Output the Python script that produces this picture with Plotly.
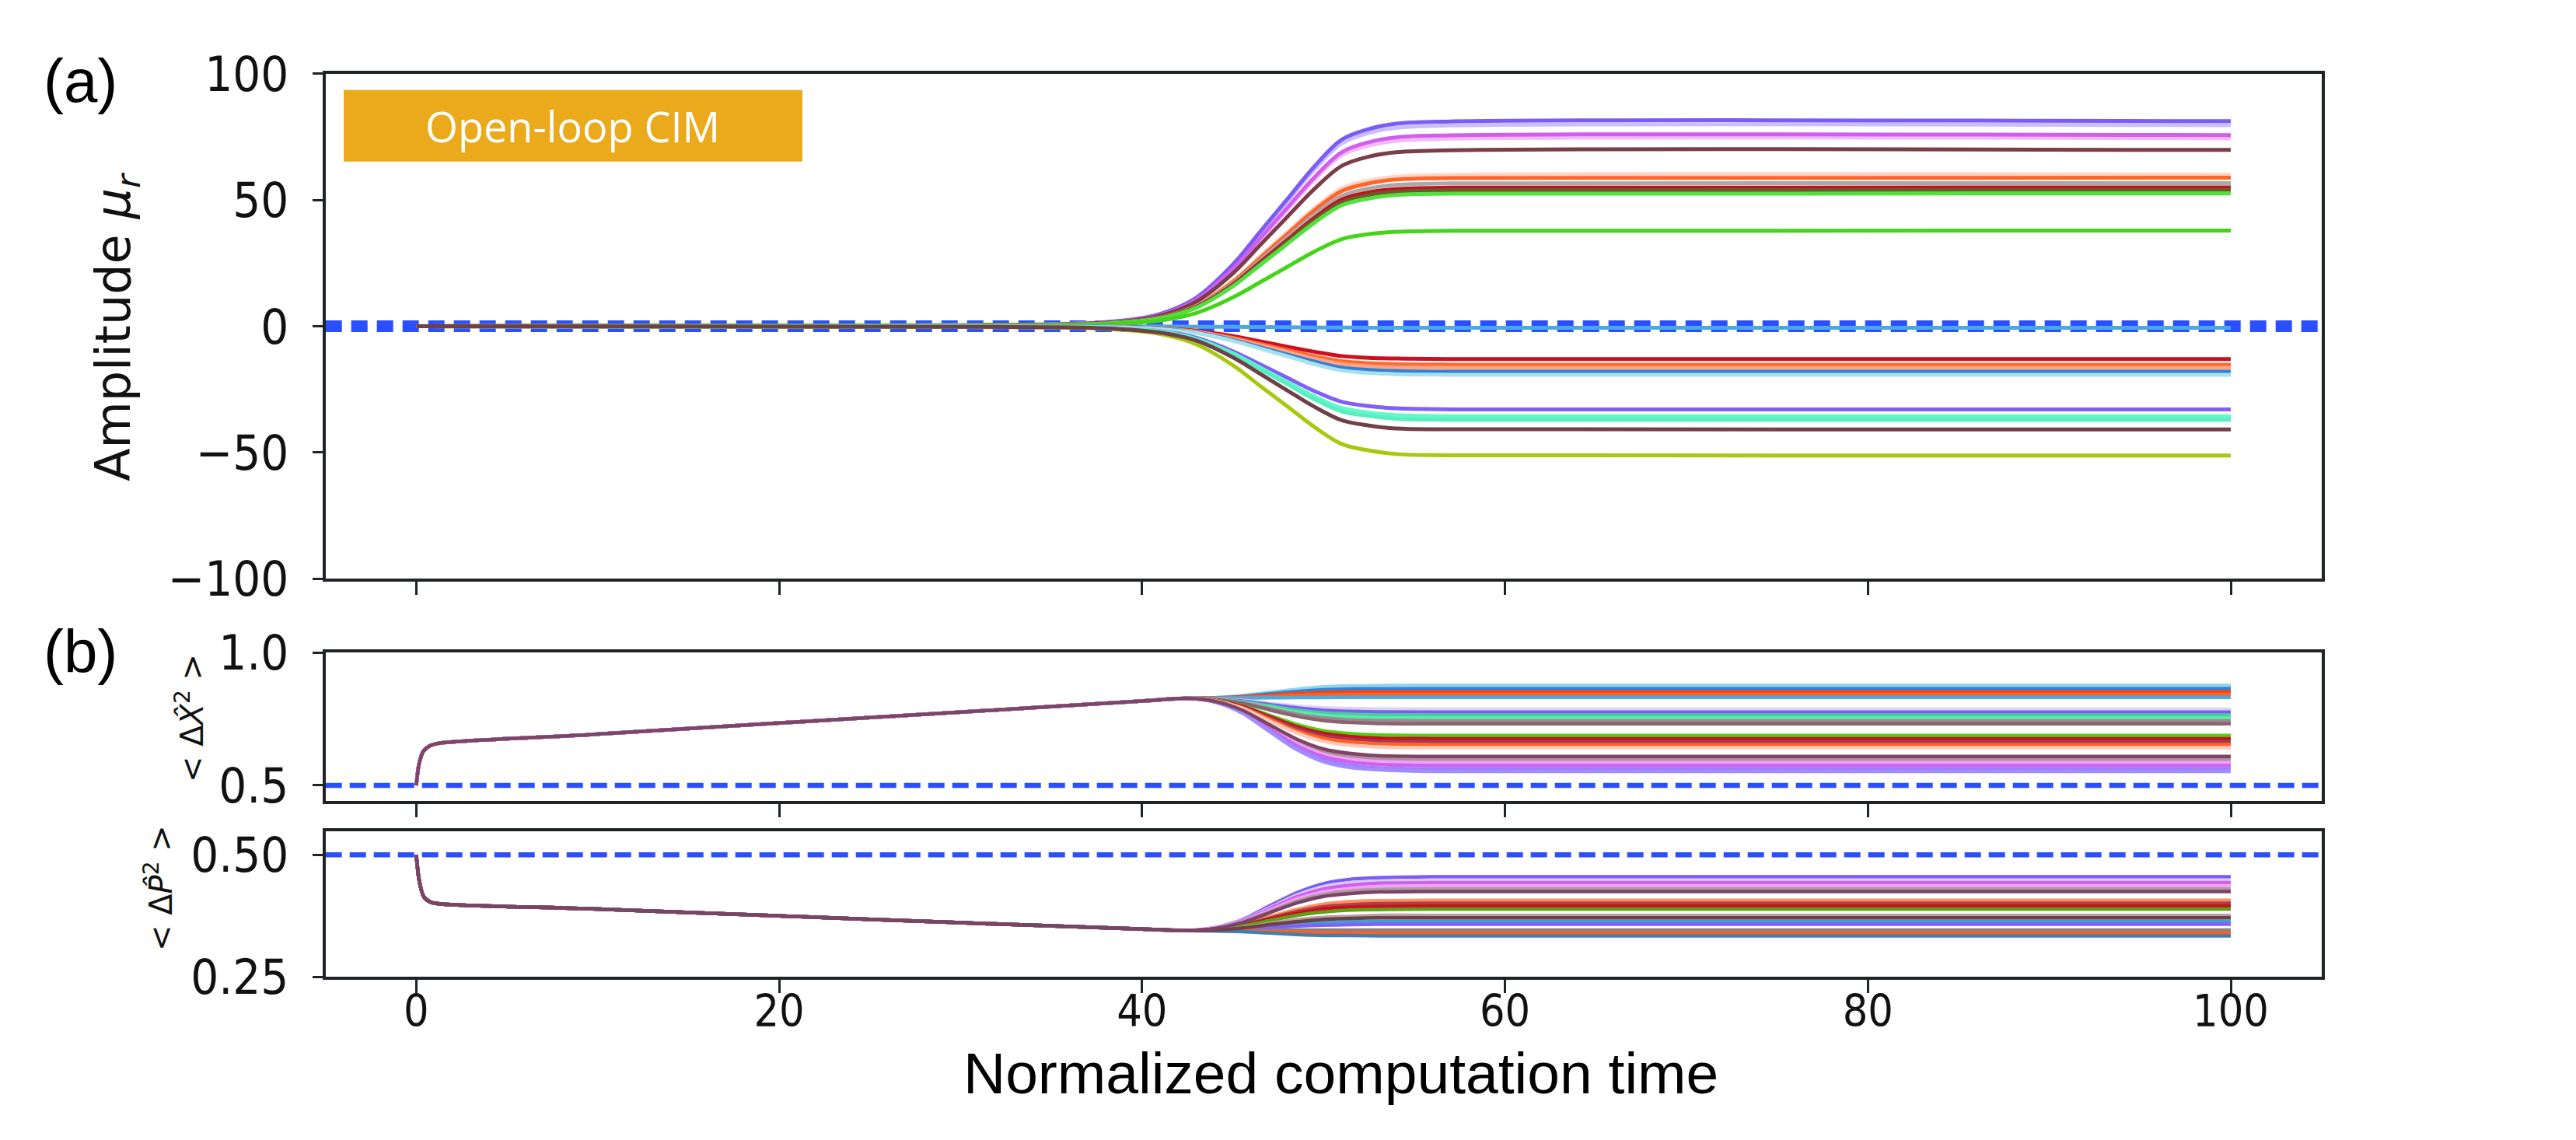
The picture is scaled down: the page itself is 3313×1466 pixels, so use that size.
import plotly.graph_objects as go

W, H = 3313, 1466
DARK = '#1f2326'

# ---------------- shared x axis ----------------
X_RANGE = [-5, 105]
X_TICKS = [0, 20, 40, 60, 80, 100]
X_TICK_TEXT = ['0', '20', '40', '60', '80', '100']

# ---------------- panel (a): amplitude mu_r ----------------
A_YTICKS = [-100, -50, 0, 50, 100]
A_YTICK_TEXT = ['\u2212100', '\u221250', '0', '50', '100']
T_A = [0, 30, 38, 41, 43, 45, 46.5, 48, 49.5, 51, 52.5, 54, 57, 100]

A_PALE_LAV = [0, 0.4, 1.6, 4.8, 11.1, 23.9, 36.6, 49.4, 62.1, 72.4, 76.6, 78.6, 79.5, 79.6]
A_PALE_PINK = [0, 0.4, 1.5, 4.5, 10.4, 22.3, 34.2, 46.1, 58.0, 67.7, 71.6, 73.4, 74.3, 74.4]
A_PALE_PEACH = [0, 0.3, 1.2, 3.6, 8.4, 18.0, 27.6, 37.2, 46.8, 54.6, 57.7, 59.2, 59.9, 60.0]
A_PURPLE_81 = [0, 0.4, 1.6, 4.9, 11.4, 24.4, 37.4, 50.3, 63.3, 73.9, 78.1, 80.2, 81.1, 81.2]
A_MAGENTA_76 = [0, 0.4, 1.5, 4.5, 10.6, 22.7, 34.8, 46.9, 59.0, 68.9, 72.9, 74.8, 75.6, 75.7]
A_BROWN_70 = [0, 0.3, 1.4, 4.2, 9.8, 20.9, 32.1, 43.3, 54.4, 63.5, 67.2, 68.9, 69.7, 69.8]
A_ORANGE_59 = [0, 0.3, 1.2, 3.5, 8.2, 17.6, 27.0, 36.5, 45.9, 53.5, 56.6, 58.1, 58.7, 58.8]
A_GRAY_57 = [0, 0.3, 1.1, 3.4, 7.9, 17.0, 26.1, 35.2, 44.2, 51.6, 54.6, 56.0, 56.6, 56.7]
A_RED_55 = [0, 0.3, 1.1, 3.3, 7.7, 16.5, 25.3, 34.1, 42.9, 50.1, 53.0, 54.3, 54.9, 55.0]
A_OLIVE_54 = [0, 0.3, 1.1, 3.2, 7.6, 16.2, 24.8, 33.5, 42.1, 49.1, 52.0, 53.3, 53.9, 54.0]
A_GREEN_53 = [0, 0.3, 1.1, 3.2, 7.4, 15.8, 24.2, 32.6, 41.0, 47.9, 50.6, 52.0, 52.5, 52.6]
A_GREEN_38 = [0, 0.2, 0.8, 2.3, 5.3, 11.4, 17.4, 23.5, 29.6, 34.5, 36.5, 37.4, 37.8, 37.9]
A_BLUE_0 = [0, 0, -0.1, -0.1, -0.2, -0.2, -0.3, -0.4, -0.5, -0.5, -0.6, -0.6, -0.6, -0.6]
A_RED_M13 = [0, -0.1, -0.3, -0.8, -1.8, -3.9, -6.0, -8.1, -10.1, -11.8, -12.5, -12.8, -13.0, -13.0]
A_ORANGE_M15 = [0, -0.1, -0.3, -0.9, -2.1, -4.6, -7.0, -9.4, -11.9, -13.8, -14.6, -15.0, -15.2, -15.2]
A_SALMON_M16 = [0, -0.1, -0.3, -1.0, -2.3, -5.0, -7.6, -10.2, -12.9, -15.0, -15.9, -16.3, -16.5, -16.5]
A_BLUE_M18 = [0, -0.1, -0.4, -1.1, -2.5, -5.4, -8.3, -11.2, -14.0, -16.4, -17.3, -17.8, -18.0, -18.0]
A_CYAN_M19 = [0, -0.1, -0.4, -1.2, -2.7, -5.8, -8.8, -11.9, -15.0, -17.5, -18.5, -19.0, -19.2, -19.2]
A_PURPLE_M33 = [0, -0.2, -0.7, -2.0, -4.6, -9.9, -15.1, -20.4, -25.7, -29.9, -31.6, -32.5, -32.9, -32.9]
A_AQUA_M36 = [0, -0.2, -0.7, -2.1, -5.0, -10.7, -16.4, -22.1, -27.8, -32.4, -34.2, -35.2, -35.6, -35.6]
A_AQUA_M37 = [0, -0.2, -0.7, -2.2, -5.2, -11.1, -17.0, -22.9, -28.9, -33.7, -35.5, -36.6, -37.0, -37.0]
A_LIME_M51 = [0, -0.3, -1.0, -3.1, -7.2, -15.4, -23.6, -31.7, -39.9, -46.6, -49.2, -50.6, -51.1, -51.2]
A_BROWN_M41 = [0, -0.2, -0.8, -2.5, -5.7, -12.3, -18.8, -25.4, -31.9, -37.2, -39.3, -40.5, -40.8, -40.9]

A_SERIES = [A_PALE_LAV, A_PALE_PINK, A_PALE_PEACH, A_PURPLE_81, A_MAGENTA_76, A_BROWN_70,
            A_ORANGE_59, A_GRAY_57, A_RED_55, A_OLIVE_54, A_GREEN_53, A_GREEN_38, A_BLUE_0,
            A_RED_M13, A_ORANGE_M15, A_SALMON_M16, A_BLUE_M18, A_CYAN_M19, A_PURPLE_M33,
            A_AQUA_M36, A_AQUA_M37, A_LIME_M51, A_BROWN_M41]
A_COLORS = ['#CBBDFF', '#F4BAF8', '#FFD4C4', '#7B5CF5', '#D25EF0', '#7A3E48',
            '#FF6428', '#A9A9A9', '#C80E1E', '#6B5A2A', '#52E03E', '#44D418', '#4CA8E0',
            '#CC1020', '#FF6A30', '#FFA585', '#2F80D8', '#A8E0EC', '#8060F8',
            '#62F8CA', '#58EEC0', '#A8C810', '#704048']
A_ZERO_X = [-5, 105]
A_ZERO_Y = [0, 0]

# ---------------- panel (b) top: <dX^2> ----------------
B1_YTICKS = [0.5, 1.0]
B1_YTICK_TEXT = ['0.5', '1.0']
T_B = [0, 0.15, 0.4, 0.8, 1.5, 10, 20, 30, 40, 42.5, 44, 45.5, 47, 48.5, 50, 51.5, 53, 56, 100]
B1_HEAD = [0.5, 0.58, 0.63, 0.651, 0.661, 0.693, 0.735, 0.776, 0.818]

B1_877 = [0.828, 0.830, 0.838, 0.850, 0.862, 0.871, 0.875, 0.876, 0.877, 0.877]
B1_865 = [0.828, 0.830, 0.835, 0.845, 0.854, 0.860, 0.863, 0.864, 0.865, 0.865]
B1_854 = [0.828, 0.829, 0.833, 0.840, 0.846, 0.851, 0.853, 0.854, 0.854, 0.854]
B1_843 = [0.828, 0.829, 0.831, 0.835, 0.839, 0.841, 0.842, 0.843, 0.843, 0.843]
B1_832 = [0.828, 0.828, 0.829, 0.830, 0.831, 0.831, 0.832, 0.832, 0.832, 0.832]
B1_787 = [0.828, 0.826, 0.820, 0.810, 0.799, 0.792, 0.789, 0.788, 0.787, 0.787]
B1_776 = [0.828, 0.825, 0.818, 0.805, 0.792, 0.783, 0.779, 0.777, 0.776, 0.776]
B1_765 = [0.828, 0.825, 0.815, 0.800, 0.784, 0.773, 0.768, 0.766, 0.765, 0.765]
B1_754 = [0.828, 0.824, 0.813, 0.795, 0.776, 0.764, 0.758, 0.755, 0.754, 0.754]
B1_743 = [0.828, 0.824, 0.811, 0.790, 0.769, 0.754, 0.747, 0.744, 0.743, 0.743]
B1_732 = [0.828, 0.823, 0.809, 0.785, 0.761, 0.744, 0.737, 0.733, 0.732, 0.732]
B1_688 = [0.828, 0.821, 0.800, 0.765, 0.730, 0.706, 0.695, 0.690, 0.688, 0.688]
B1_676 = [0.828, 0.820, 0.798, 0.760, 0.722, 0.696, 0.684, 0.678, 0.676, 0.676]
B1_665 = [0.828, 0.820, 0.795, 0.755, 0.714, 0.686, 0.673, 0.667, 0.665, 0.665]
B1_654 = [0.828, 0.819, 0.793, 0.750, 0.706, 0.677, 0.663, 0.657, 0.654, 0.654]
B1_642 = [0.828, 0.819, 0.791, 0.744, 0.698, 0.666, 0.651, 0.645, 0.642, 0.642]
B1_597 = [0.828, 0.816, 0.782, 0.724, 0.666, 0.627, 0.609, 0.600, 0.597, 0.597]
B1_586 = [0.828, 0.816, 0.780, 0.719, 0.659, 0.617, 0.598, 0.590, 0.586, 0.586]
B1_575 = [0.828, 0.815, 0.777, 0.714, 0.651, 0.608, 0.588, 0.579, 0.575, 0.575]
B1_562 = [0.828, 0.815, 0.775, 0.708, 0.642, 0.597, 0.575, 0.566, 0.562, 0.562]
B1_553 = [0.828, 0.814, 0.773, 0.704, 0.636, 0.589, 0.567, 0.559, 0.553, 0.553]
B1_609 = [0.828, 0.817, 0.784, 0.729, 0.675, 0.637, 0.620, 0.612, 0.609, 0.609]

B1_TAILS = [B1_877, B1_865, B1_854, B1_843, B1_832, B1_787, B1_776, B1_765, B1_754, B1_743,
            B1_732, B1_688, B1_676, B1_665, B1_654, B1_642, B1_597, B1_586, B1_575, B1_562,
            B1_553, B1_609]
B1_COLORS = ['#92D5E6', '#2F82D8', '#E64A22', '#FF6222', '#52A8D8', '#DCD2FA', '#7B5CF5',
             '#50C8A0', '#50F0A8', '#A08890', '#8A6470', '#52D010', '#C81020', '#A83858',
             '#FF6420', '#FFC8B8', '#B090A0', '#F0A0F8', '#D060F0', '#9A80FF',
             '#A48CFF', '#7E4664']
B1_REF_Y = [0.5, 0.5]

# ---------------- panel (b) bottom: <dP^2> ----------------
B2_YTICKS = [0.25, 0.5]
B2_YTICK_TEXT = ['0.25', '0.50']
B2_HEAD = [0.5, 0.45, 0.415, 0.403, 0.399, 0.389, 0.375, 0.361, 0.348]

B2_455 = [0.345, 0.351, 0.367, 0.395, 0.422, 0.441, 0.450, 0.453, 0.455, 0.455]
B2_448 = [0.345, 0.350, 0.366, 0.391, 0.417, 0.435, 0.443, 0.446, 0.448, 0.448]
B2_443 = [0.345, 0.350, 0.365, 0.389, 0.414, 0.430, 0.438, 0.442, 0.443, 0.443]
B2_436 = [0.345, 0.350, 0.363, 0.386, 0.409, 0.424, 0.431, 0.435, 0.436, 0.436]
B2_430 = [0.345, 0.349, 0.362, 0.383, 0.405, 0.419, 0.426, 0.429, 0.430, 0.430]
B2_407 = [0.345, 0.348, 0.357, 0.373, 0.388, 0.399, 0.404, 0.406, 0.407, 0.407]
B2_401 = [0.345, 0.348, 0.356, 0.370, 0.384, 0.394, 0.398, 0.400, 0.401, 0.401]
B2_395 = [0.345, 0.348, 0.355, 0.368, 0.380, 0.389, 0.393, 0.394, 0.395, 0.395]
B2_389 = [0.345, 0.347, 0.354, 0.365, 0.376, 0.383, 0.387, 0.388, 0.389, 0.389]
B2_376 = [0.345, 0.347, 0.351, 0.359, 0.367, 0.372, 0.374, 0.376, 0.376, 0.376]
B2_364 = [0.345, 0.346, 0.349, 0.354, 0.358, 0.362, 0.363, 0.364, 0.364, 0.364]
B2_358 = [0.345, 0.346, 0.348, 0.351, 0.354, 0.356, 0.357, 0.358, 0.358, 0.358]
B2_346 = [0.345, 0.345, 0.345, 0.345, 0.346, 0.346, 0.346, 0.346, 0.346, 0.346]
B2_340 = [0.345, 0.345, 0.344, 0.343, 0.342, 0.341, 0.340, 0.340, 0.340, 0.340]
B2_334 = [0.345, 0.344, 0.343, 0.340, 0.337, 0.335, 0.335, 0.334, 0.334, 0.334]
B2_371 = [0.345, 0.346, 0.350, 0.357, 0.363, 0.368, 0.370, 0.371, 0.371, 0.371]
B2_425 = [0.345, 0.349, 0.361, 0.381, 0.401, 0.415, 0.421, 0.424, 0.425, 0.425]

B2_TAILS = [B2_455, B2_448, B2_443, B2_436, B2_430, B2_407, B2_401, B2_395, B2_389, B2_376,
            B2_364, B2_358, B2_346, B2_340, B2_334, B2_371, B2_425]
B2_COLORS = ['#7B5CF5', '#D8D0FC', '#D060F0', '#F0A0F8', '#B0989F', '#FF9060', '#B04048',
             '#C81020', '#60A010', '#B8A0A8', '#40A0D0', '#8060F8', '#8A8080', '#FF6020',
             '#4080B0', '#704048', '#7A4466']
B2_REF_Y = [0.5, 0.5]

# ---------------- figure ----------------
fig = go.Figure()

DASH_BLUE = '#2A4FFF'
fig.add_trace(go.Scatter(x=A_ZERO_X, y=A_ZERO_Y, mode='lines', xaxis='x', yaxis='y',
                         line=dict(color=DASH_BLUE, width=15, dash='21px,12px'),
                         showlegend=False, hoverinfo='skip'))
for ys, c in zip(A_SERIES, A_COLORS):
    fig.add_trace(go.Scatter(x=T_A, y=ys, mode='lines', xaxis='x', yaxis='y',
                             line=dict(color=c, width=5, shape='spline', smoothing=1.0),
                             showlegend=False, hoverinfo='skip'))

for tail, c in zip(B1_TAILS, B1_COLORS):
    fig.add_trace(go.Scatter(x=T_B, y=B1_HEAD + tail, mode='lines', xaxis='x2', yaxis='y2',
                             line=dict(color=c, width=4.5, shape='spline', smoothing=0.8),
                             showlegend=False, hoverinfo='skip'))
fig.add_trace(go.Scatter(x=X_RANGE, y=B1_REF_Y, mode='lines', xaxis='x2', yaxis='y2',
                         line=dict(color=DASH_BLUE, width=6.5, dash='21px,10px'),
                         showlegend=False, hoverinfo='skip'))

for tail, c in zip(B2_TAILS, B2_COLORS):
    fig.add_trace(go.Scatter(x=T_B, y=B2_HEAD + tail, mode='lines', xaxis='x3', yaxis='y3',
                             line=dict(color=c, width=4.5, shape='spline', smoothing=0.8),
                             showlegend=False, hoverinfo='skip'))
fig.add_trace(go.Scatter(x=X_RANGE, y=B2_REF_Y, mode='lines', xaxis='x3', yaxis='y3',
                         line=dict(color=DASH_BLUE, width=6.5, dash='21px,10px'),
                         showlegend=False, hoverinfo='skip'))

XL, XR = 418.7 / W, 2985.7 / W
TICK_FONT = dict(family='DejaVu Sans Condensed, DejaVu Sans', color='#111111')


def xax(anchor, labels):
    d = dict(domain=[XL, XR], range=X_RANGE, anchor=anchor, tickvals=X_TICKS,
             ticks='outside', ticklen=17, tickwidth=3, tickcolor=DARK,
             showline=True, linewidth=3.5, linecolor=DARK, mirror=True,
             showgrid=False, zeroline=False, showticklabels=labels, automargin=False)
    if labels:
        d.update(ticktext=X_TICK_TEXT, tickfont=dict(size=57, **TICK_FONT),
                 ticklabelstandoff=-25)
    return d


def yax(anchor, dom, rng, vals, text):
    return dict(domain=dom, range=rng, anchor=anchor, tickvals=vals, ticktext=text,
                ticks='outside', ticklen=13, tickwidth=3, tickcolor=DARK,
                showline=True, linewidth=3.5, linecolor=DARK, mirror=True,
                showgrid=False, zeroline=False, automargin=False,
                tickfont=dict(size=63, **TICK_FONT), ticklabelstandoff=18)


def py(p):
    return 1 - p / H


fig.update_layout(
    template='none',
    width=W, height=H, autosize=False,
    margin=dict(l=0, r=0, t=0, b=0, pad=0),
    paper_bgcolor='white', plot_bgcolor='white',
    xaxis=xax('y', False),
    xaxis2=xax('y2', False),
    xaxis3=xax('y3', True),
    yaxis=yax('x', [py(744.3), py(94.8)], [-100, 100], A_YTICKS, A_YTICK_TEXT),
    yaxis2=yax('x2', [py(1030), py(839.3)], [0.4414, 1.0], B1_YTICKS, B1_YTICK_TEXT),
    yaxis3=yax('x3', [py(1256.3), py(1068.7)], [0.25, 0.5487], B2_YTICKS, B2_YTICK_TEXT),
    shapes=[dict(type='rect', xref='paper', yref='paper',
                 x0=442 / W, x1=1032 / W, y0=py(207.8), y1=py(115.8),
                 fillcolor='#EBAA1C', line=dict(width=0), layer='above')],
    annotations=[
        dict(text='Open-loop CIM', xref='paper', yref='paper', x=736.5 / W, y=py(162),
             xanchor='center', yanchor='middle', showarrow=False,
             font=dict(family='Open Sans', size=54, color='white')),
        dict(text='(a)', xref='paper', yref='paper', x=103 / W, y=py(104),
             xanchor='center', yanchor='middle', showarrow=False,
             font=dict(family='Liberation Sans', size=78, color='black')),
        dict(text='(b)', xref='paper', yref='paper', x=103 / W, y=py(838),
             xanchor='center', yanchor='middle', showarrow=False,
             font=dict(family='Liberation Sans', size=78, color='black')),
        dict(text='Normalized computation time', xref='paper', yref='paper',
             x=1725 / W, y=py(1380), xanchor='center', yanchor='middle', showarrow=False,
             font=dict(family='Liberation Sans', size=75, color='black')),
        dict(text='Amplitude <i>\u03bc<sub>r</sub></i>', xref='paper', yref='paper',
             x=150 / W, y=py(420), xanchor='center', yanchor='middle', showarrow=False,
             textangle=-90, font=dict(family='DejaVu Sans', size=62, color='#111111')),
        dict(text='< \u0394<i>X\u0302</i><sup>2</sup> >', xref='paper', yref='paper',
             x=244 / W, y=py(924), xanchor='center', yanchor='middle', showarrow=False,
             textangle=-90, font=dict(family='DejaVu Sans', size=40, color='#111111')),
        dict(text='< \u0394<i>P\u0302</i><sup>2</sup> >', xref='paper', yref='paper',
             x=204 / W, y=py(1142), xanchor='center', yanchor='middle', showarrow=False,
             textangle=-90, font=dict(family='DejaVu Sans', size=40, color='#111111')),
    ],
)

fig.write_html("out.html", config={'displayModeBar': False},
               post_script="document.body.style.margin='0px';")
